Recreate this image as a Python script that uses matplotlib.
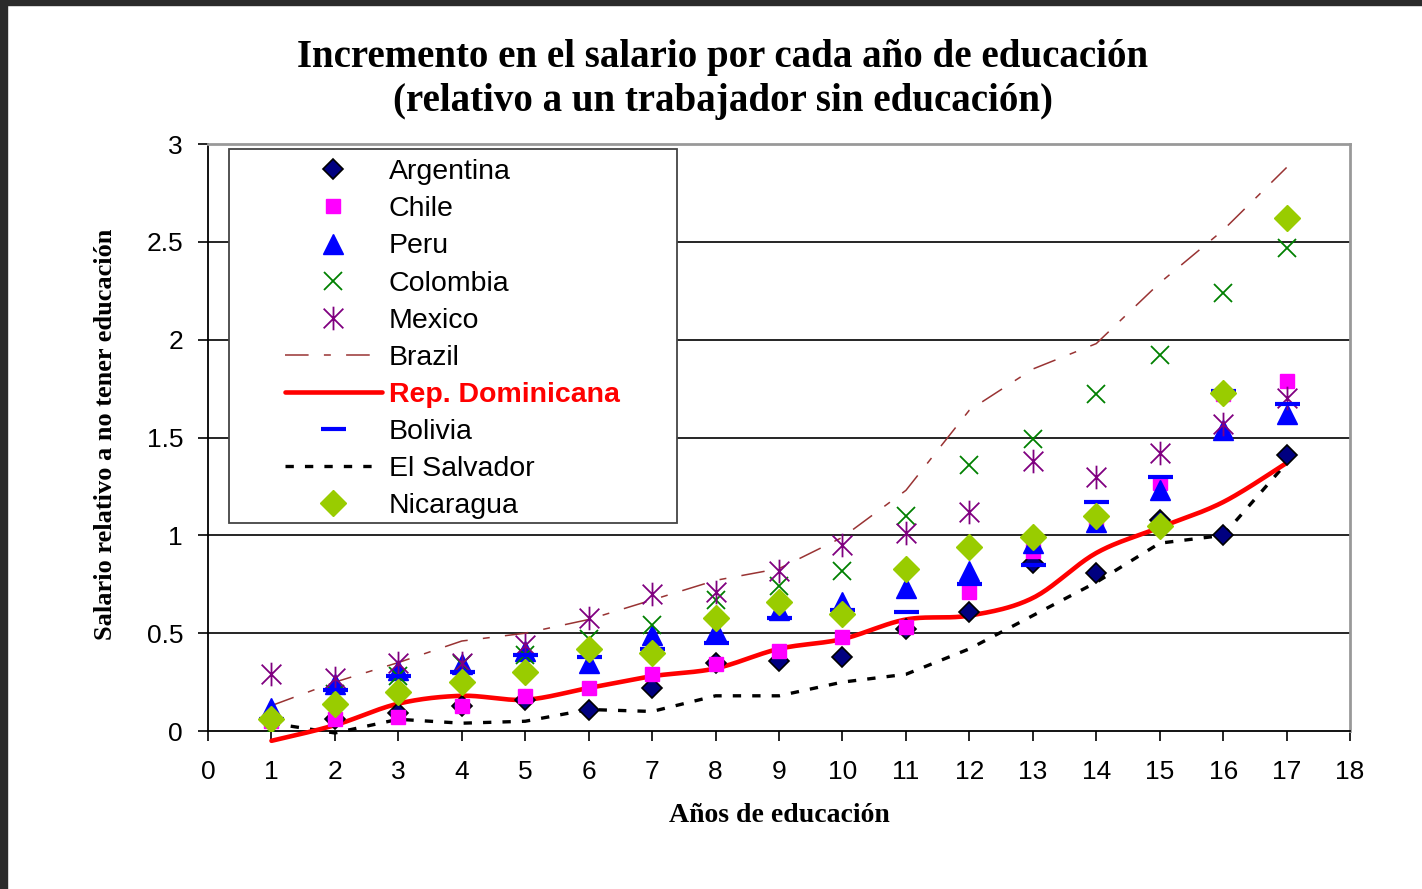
import matplotlib
matplotlib.use('Agg')
import matplotlib.pyplot as plt
from matplotlib.path import Path
from matplotlib.patches import Rectangle
import numpy as np

years = list(range(1, 18))
argentina = [0.05, 0.06, 0.09, 0.13, 0.16, 0.11, 0.22, 0.35, 0.36, 0.38, 0.52, 0.61, 0.86, 0.81, 1.08, 1.00, 1.41]
chile = [0.05, 0.06, 0.07, 0.13, 0.18, 0.22, 0.29, 0.34, 0.41, 0.48, 0.53, 0.71, 0.92, 1.08, 1.27, 1.72, 1.79]
peru = [0.12, 0.24, 0.31, 0.34, 0.41, 0.35, 0.49, 0.51, 0.62, 0.66, 0.73, 0.82, 0.96, 1.07, 1.23, 1.54, 1.62]
colombia = [0.01, 0.19, 0.28, 0.34, 0.39, 0.47, 0.54, 0.67, 0.74, 0.82, 1.10, 1.36, 1.49, 1.72, 1.92, 2.24, 2.47]
mexico = [0.29, 0.27, 0.35, 0.35, 0.44, 0.58, 0.70, 0.71, 0.82, 0.95, 1.01, 1.12, 1.38, 1.30, 1.42, 1.57, 1.70]
brazil = [0.13, 0.25, 0.35, 0.46, 0.50, 0.57, 0.67, 0.77, 0.83, 0.99, 1.23, 1.64, 1.85, 1.98, 2.29, 2.56, 2.88]
rep_dom = [-0.05, 0.03, 0.14, 0.18, 0.16, 0.22, 0.28, 0.32, 0.42, 0.47, 0.57, 0.59, 0.68, 0.91, 1.04, 1.17, 1.37]
bolivia = [0.06, 0.21, 0.28, 0.30, 0.39, 0.38, 0.42, 0.45, 0.58, 0.62, 0.61, 0.75, 0.85, 1.17, 1.30, 1.74, 1.67]
el_salvador = [0.04, -0.01, 0.06, 0.04, 0.05, 0.11, 0.10, 0.18, 0.18, 0.25, 0.29, 0.42, 0.59, 0.76, 0.96, 1.00, 1.37]
nicaragua = [0.06, 0.14, 0.20, 0.25, 0.30, 0.42, 0.40, 0.58, 0.66, 0.60, 0.83, 0.94, 0.99, 1.10, 1.05, 1.73, 2.62]

x_ticks = list(range(0, 19))
y_ticks = [0, 0.5, 1, 1.5, 2, 2.5, 3]
y_tick_labels = ['0', '0.5', '1', '1.5', '2', '2.5', '3']

title_1 = 'Incremento en el salario por cada año de educación'
title_2 = '(relativo a un trabajador sin educación)'
x_label = 'Años de educación'
y_label = 'Salario relativo a no tener educación'


def smooth(xs, ys, n=24):
    # catmull-rom curve through the points, like Excel's smoothed line
    p = np.column_stack([xs, ys]).astype(float)
    p = np.vstack([p[0], p, p[-1]])
    out = []
    t = np.linspace(0, 1, n)[:, None]
    for i in range(1, len(p) - 2):
        p0, p1, p2, p3 = p[i - 1], p[i], p[i + 1], p[i + 2]
        seg = 0.5 * ((2 * p1) + (-p0 + p2) * t + (2 * p0 - 5 * p1 + 4 * p2 - p3) * t ** 2
                     + (-p0 + 3 * p1 - 3 * p2 + p3) * t ** 3)
        out.append(seg if i == 1 else seg[1:])
    out = np.vstack(out)
    return out[:, 0], out[:, 1]


asterisk = Path([(-1, -1), (1, 1), (-1, 1), (1, -1), (0, -1.2), (0, 1.2)],
                [Path.MOVETO, Path.LINETO, Path.MOVETO, Path.LINETO, Path.MOVETO, Path.LINETO])

plt.rcParams['font.family'] = ['Liberation Sans', 'DejaVu Sans']
plt.rcParams['lines.scale_dashes'] = False

fig = plt.figure(figsize=(14.22, 8.89), dpi=100)
ax = fig.add_axes([0.1463, 0.1777, 0.8031, 0.6603])

for yv in y_ticks[1:-1]:
    ax.axhline(yv, color='black', lw=1.2, zorder=0)

ms_kw = dict(linestyle='none', zorder=5)
h_arg, = ax.plot(years, argentina, marker='D', ms=10, mfc='#000080', mec='black', mew=1.2, **ms_kw)
h_chi, = ax.plot(years, chile, marker='s', ms=9.5, mfc='#FF00FF', mec='#FF00FF', **ms_kw)
h_per, = ax.plot(years, peru, marker='^', ms=15, mfc='#0000FF', mec='#0000FF', **ms_kw)
h_col, = ax.plot(years, colombia, marker='x', ms=13, mec='#008000', mew=1.3, **ms_kw)
h_mex, = ax.plot(years, mexico, marker=asterisk, ms=17, mec='#800080', mew=1.3, **ms_kw)
h_bra, = ax.plot(years, brazil, color='#993333', lw=1.1, linestyle=(0, (17, 11, 5, 11)), zorder=3)
sx, sy = smooth(years, rep_dom)
ax.plot(sx, sy, color='#FF0000', lw=3.3, zorder=4, clip_on=False, solid_capstyle='round')
h_rep, = ax.plot([], [], color='#FF0000', lw=3.3, solid_capstyle='round')
h_bol, = ax.plot(years, bolivia, marker='_', ms=18, mec='#0000FF', mew=3, **ms_kw)
h_els, = ax.plot(years, el_salvador, color='black', lw=2.4, linestyle=(0, (6, 8)), zorder=3, clip_on=False)
h_nic, = ax.plot(years, nicaragua, marker='D', ms=13, mfc='#99CC00', mec='#99CC00', **ms_kw)

ax.set_xlim(0, 18)
ax.set_ylim(0, 3)
ax.set_xticks(x_ticks)
ax.set_yticks(y_ticks)
ax.set_yticklabels(y_tick_labels)
ax.tick_params(axis='both', direction='out', length=7, width=1.2, colors='black', labelsize=19)
ax.tick_params(axis='x', pad=14)
ax.tick_params(axis='y', pad=11)
for side in ['left', 'bottom']:
    ax.spines[side].set_color('black')
    ax.spines[side].set_linewidth(1.3)
for side in ['top', 'right']:
    ax.spines[side].set_color('#999999')
    ax.spines[side].set_linewidth(2)

# legend box
ax.add_patch(Rectangle((0.0184, 0.3543), 0.3923, 0.6372, transform=ax.transAxes,
                       fill=True, facecolor='white', edgecolor='#444444', lw=1.3, zorder=6))
handles = [h_arg, h_chi, h_per, h_col, h_mex, h_bra, h_rep, h_bol, h_els, h_nic]
labels = ['Argentina', 'Chile', 'Peru', 'Colombia', 'Mexico', 'Brazil',
          'Rep. Dominicana', 'Bolivia', 'El Salvador', 'Nicaragua']
leg = ax.legend(handles, labels, loc='upper left', bbox_to_anchor=(0.0674, 0.974),
                frameon=False, fontsize=20.5, borderpad=0, borderaxespad=0,
                handlelength=3.4, handletextpad=0.25, labelspacing=0.39, numpoints=1)
leg.set_zorder(7)
for txt in leg.get_texts():
    if txt.get_text() == 'Rep. Dominicana':
        txt.set_color('#FF0000')
        txt.set_fontweight('bold')

serif = ['Liberation Serif', 'DejaVu Serif']
fig.text(0.5084, 1 - 57 / 889, title_1, ha='center', va='center', fontsize=28,
         fontweight='bold', family=serif)
fig.text(0.5084, 1 - 101 / 889, title_2, ha='center', va='center', fontsize=28,
         fontweight='bold', family=serif)
fig.text(0.548, 1 - 816 / 889, x_label, ha='center', va='center', fontsize=20,
         fontweight='bold', family=serif)
fig.text(0.0745, 1 - 434 / 889, y_label, ha='center', va='center', rotation=90,
         fontsize=19, fontweight='bold', family=serif)

# dark frame of the screenshot
fig.patches.append(Rectangle((0, 0), 0.005, 1, transform=fig.transFigure, color='#2b2b2b'))
fig.patches.append(Rectangle((0, 0.994), 1, 0.006, transform=fig.transFigure, color='#2b2b2b'))

fig.savefig('out.png', dpi=100)
